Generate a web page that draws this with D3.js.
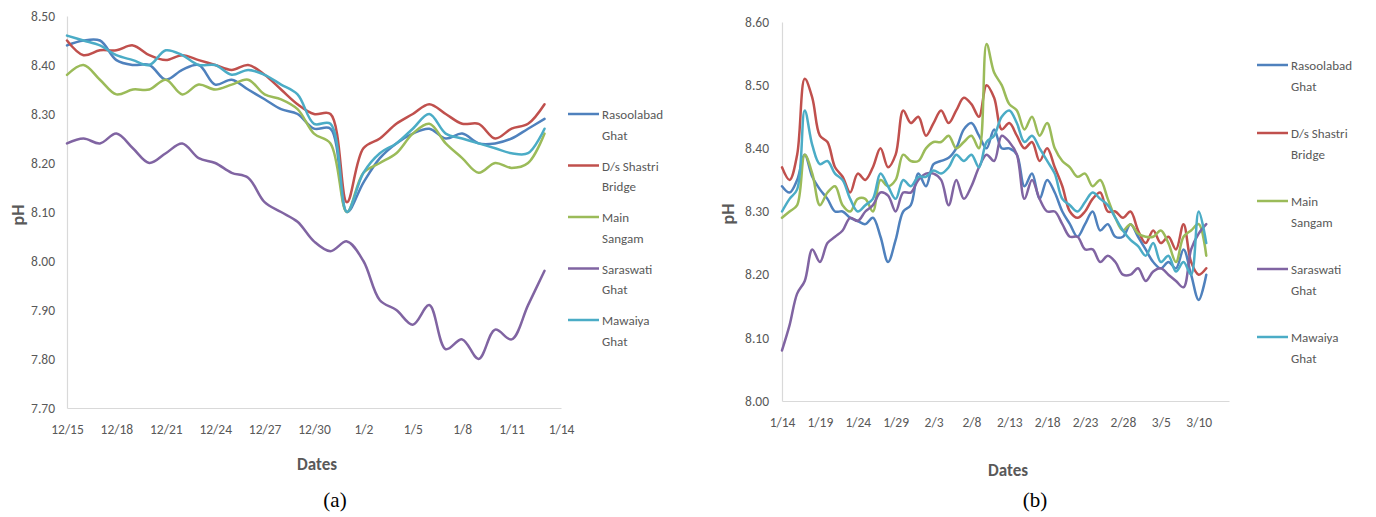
<!DOCTYPE html>
<html>
<head>
<meta charset="utf-8">
<script src="https://cdn.jsdelivr.net/npm/d3@7"></script>
<style>
  html, body { margin: 0; padding: 0; background: #fff; }
  svg { display: block; }
  .tick text { fill: #595959; }
</style>
</head>
<body>
<svg id="chart" width="1376" height="517"></svg>
<script>
// ---- Sampling stations (legend order) ----
const stations = ["Rasoolabad Ghat", "D/s Shastri Bridge", "Main Sangam", "Saraswati Ghat", "Mawaiya Ghat"];
const legendLines = [["Rasoolabad", "Ghat"], ["D/s Shastri", "Bridge"], ["Main", "Sangam"], ["Saraswati", "Ghat"], ["Mawaiya", "Ghat"]];
const colors = ["#4F81BD", "#C0504D", "#9BBB59", "#8064A2", "#4BACC6"];

// ---- Period (a): daily pH, 15 Dec – 13 Jan ----
const startA = "2014-12-15", endA = "2015-01-13";
const rasoolabadA = [8.44, 8.45, 8.45, 8.41, 8.40, 8.40, 8.37, 8.39, 8.40, 8.36, 8.37, 8.35, 8.33, 8.31, 8.30,
                     8.27, 8.27, 8.10, 8.16, 8.21, 8.24, 8.26, 8.27, 8.25, 8.26, 8.24, 8.24, 8.25, 8.27, 8.29];
const shastriA    = [8.45, 8.42, 8.43, 8.43, 8.44, 8.42, 8.41, 8.42, 8.41, 8.40, 8.39, 8.40, 8.38, 8.35, 8.32,
                     8.30, 8.30, 8.12, 8.23, 8.25, 8.28, 8.30, 8.32, 8.30, 8.28, 8.28, 8.25, 8.27, 8.28, 8.32];
const sangamA     = [8.38, 8.40, 8.37, 8.34, 8.35, 8.35, 8.37, 8.34, 8.36, 8.35, 8.36, 8.37, 8.34, 8.33, 8.31,
                     8.26, 8.24, 8.10, 8.18, 8.20, 8.22, 8.26, 8.28, 8.24, 8.21, 8.18, 8.20, 8.19, 8.20, 8.26];
const saraswatiA  = [8.24, 8.25, 8.24, 8.26, 8.23, 8.20, 8.22, 8.24, 8.21, 8.20, 8.18, 8.17, 8.12, 8.10, 8.08,
                     8.04, 8.02, 8.04, 8.00, 7.92, 7.90, 7.87, 7.91, 7.82, 7.84, 7.80, 7.86, 7.84, 7.91, 7.98];
const mawaiyaA    = [8.46, 8.45, 8.44, 8.42, 8.41, 8.40, 8.43, 8.42, 8.40, 8.40, 8.38, 8.39, 8.38, 8.36, 8.34,
                     8.28, 8.28, 8.10, 8.18, 8.22, 8.24, 8.27, 8.30, 8.26, 8.25, 8.24, 8.23, 8.22, 8.22, 8.27];
const yTicksA = [7.70, 7.80, 7.90, 8.00, 8.10, 8.20, 8.30, 8.40, 8.50];
const xTicksA = ["2014-12-15", "2014-12-18", "2014-12-21", "2014-12-24", "2014-12-27", "2014-12-30",
                 "2015-01-02", "2015-01-05", "2015-01-08", "2015-01-11", "2015-01-14"];

// ---- Period (b): daily pH, 14 Jan – 11 Mar ----
const startB = "2015-01-14", endB = "2015-03-11";
const rasoolabadB = [8.34, 8.33, 8.35, 8.39, 8.355, 8.335, 8.32, 8.30, 8.30, 8.29, 8.285, 8.28, 8.29, 8.26, 8.22,
                     8.255, 8.30, 8.31, 8.36, 8.34, 8.375, 8.38, 8.385, 8.40, 8.43, 8.44, 8.42, 8.40, 8.43, 8.40,
                     8.40, 8.39, 8.34, 8.36, 8.32, 8.35, 8.33, 8.30, 8.28, 8.26, 8.28, 8.30, 8.27, 8.28, 8.26,
                     8.26, 8.28, 8.26, 8.24, 8.22, 8.21, 8.22, 8.21, 8.24, 8.20, 8.16, 8.20];
const shastriB    = [8.37, 8.35, 8.39, 8.51, 8.48, 8.42, 8.41, 8.37, 8.355, 8.33, 8.36, 8.35, 8.37, 8.40, 8.37,
                     8.39, 8.46, 8.44, 8.45, 8.42, 8.44, 8.46, 8.44, 8.46, 8.48, 8.47, 8.45, 8.50, 8.48, 8.43,
                     8.44, 8.42, 8.40, 8.41, 8.38, 8.40, 8.37, 8.34, 8.30, 8.29, 8.30, 8.32, 8.33, 8.30, 8.30,
                     8.29, 8.30, 8.27, 8.25, 8.27, 8.25, 8.26, 8.24, 8.28, 8.22, 8.20, 8.21];
const sangamB     = [8.29, 8.30, 8.31, 8.39, 8.36, 8.31, 8.33, 8.34, 8.31, 8.30, 8.32, 8.32, 8.30, 8.35, 8.34,
                     8.35, 8.39, 8.38, 8.38, 8.40, 8.41, 8.41, 8.42, 8.40, 8.41, 8.42, 8.40, 8.565, 8.52, 8.50,
                     8.47, 8.46, 8.43, 8.45, 8.42, 8.44, 8.40, 8.38, 8.37, 8.355, 8.36, 8.34, 8.35, 8.32, 8.29,
                     8.27, 8.28, 8.265, 8.26, 8.26, 8.27, 8.25, 8.22, 8.26, 8.27, 8.28, 8.23];
const saraswatiB  = [8.08, 8.12, 8.17, 8.19, 8.24, 8.22, 8.25, 8.26, 8.27, 8.29, 8.285, 8.30, 8.31, 8.33, 8.325,
                     8.30, 8.33, 8.33, 8.35, 8.36, 8.36, 8.35, 8.31, 8.35, 8.32, 8.34, 8.37, 8.39, 8.38, 8.42,
                     8.41, 8.39, 8.32, 8.35, 8.32, 8.30, 8.30, 8.28, 8.26, 8.26, 8.24, 8.24, 8.22, 8.23, 8.22,
                     8.20, 8.20, 8.21, 8.19, 8.205, 8.21, 8.20, 8.19, 8.18, 8.24, 8.265, 8.28];
const mawaiyaB    = [8.30, 8.32, 8.335, 8.46, 8.405, 8.375, 8.38, 8.36, 8.35, 8.32, 8.30, 8.31, 8.32, 8.36, 8.34,
                     8.32, 8.35, 8.34, 8.355, 8.355, 8.365, 8.36, 8.37, 8.39, 8.38, 8.39, 8.37, 8.41, 8.42, 8.45,
                     8.46, 8.44, 8.41, 8.42, 8.40, 8.38, 8.36, 8.32, 8.31, 8.30, 8.315, 8.33, 8.32, 8.31, 8.29,
                     8.27, 8.255, 8.245, 8.23, 8.25, 8.22, 8.23, 8.205, 8.22, 8.20, 8.30, 8.25];
const yTicksB = [8.00, 8.10, 8.20, 8.30, 8.40, 8.50, 8.60];
const xTicksB = ["2015-01-14", "2015-01-19", "2015-01-24", "2015-01-29", "2015-02-03", "2015-02-08",
                 "2015-02-13", "2015-02-18", "2015-02-23", "2015-02-28", "2015-03-05", "2015-03-10"];

// ---- Helpers ----
const parse = d3.utcParse("%Y-%m-%d");
const fmtDate = d3.utcFormat("%-m/%-d");
const fmtPH = d3.format(".2f");
const FONT = "Carlito, 'Liberation Sans', Arial, sans-serif";
const svg = d3.select("#chart");

function drawPanel(cfg) {
  const days = d3.utcDay.range(parse(cfg.start), d3.utcDay.offset(parse(cfg.end), 1));
  const x = d3.scaleUtc().domain([parse(cfg.xTicks[0]), parse(cfg.axisEnd)]).range([cfg.left, cfg.right]);
  const y = d3.scaleLinear().domain([cfg.yTicks[0], cfg.yTicks[cfg.yTicks.length - 1]]).range([cfg.bottom, cfg.top]);
  const g = svg.append("g");

  // y axis
  const ya = g.append("g").attr("transform", `translate(${cfg.left},0)`)
    .call(d3.axisLeft(y).tickValues(cfg.yTicks).tickFormat(fmtPH).tickSize(0).tickPadding(cfg.yPad));
  ya.select(".domain").attr("stroke", "#d9d9d9").attr("stroke-width", 1.2);
  ya.selectAll("text").attr("font-family", FONT).attr("font-size", 13.5).attr("fill", "#595959");

  // x axis
  const xa = g.append("g").attr("transform", `translate(0,${cfg.bottom})`)
    .call(d3.axisBottom(x).tickValues(cfg.xTicks.map(parse)).tickFormat(fmtDate).tickSize(0).tickPadding(16));
  xa.select(".domain").attr("stroke", "#d9d9d9").attr("stroke-width", 1.2);
  xa.selectAll("text").attr("font-family", FONT).attr("font-size", 13.5).attr("fill", "#595959");

  // smoothed series lines
  const line = d3.line()
    .x((d, i) => x(days[i]))
    .y(d => y(d))
    .curve(d3.curveCatmullRom.alpha(0.5));
  cfg.series.forEach((vals, k) => {
    g.append("path").datum(vals)
      .attr("d", line)
      .attr("fill", "none")
      .attr("stroke", colors[k])
      .attr("stroke-width", 2.5)
      .attr("stroke-linejoin", "round")
      .attr("stroke-linecap", "round");
  });

  // axis titles
  g.append("text")
    .attr("transform", `translate(${cfg.phX},${cfg.phY}) rotate(-90)`)
    .attr("text-anchor", "middle").attr("dominant-baseline", "central")
    .attr("font-family", FONT).attr("font-size", 18).attr("font-weight", "bold").attr("fill", "#595959")
    .text("pH");
  g.append("text")
    .attr("x", cfg.datesX).attr("y", cfg.datesY)
    .attr("text-anchor", "middle")
    .attr("font-family", FONT).attr("font-size", 17).attr("font-weight", "bold").attr("fill", "#595959")
    .text("Dates");

  // legend
  const lg = g.append("g");
  legendLines.forEach((lines, k) => {
    const ly = cfg.legTop + k * cfg.legStep;
    lg.append("line")
      .attr("x1", cfg.legX).attr("x2", cfg.legX + 31)
      .attr("y1", ly).attr("y2", ly)
      .attr("stroke", colors[k]).attr("stroke-width", 2.5);
    lines.forEach((t, j) => {
      lg.append("text")
        .attr("x", cfg.legX + 34).attr("y", ly + 5 + j * 20.5)
        .attr("font-family", FONT).attr("font-size", 13).attr("fill", "#595959")
        .text(t);
    });
  });

  // panel caption
  g.append("text")
    .attr("x", cfg.capX).attr("y", 507)
    .attr("text-anchor", "middle")
    .attr("font-family", "'Liberation Serif', 'Times New Roman', serif").attr("font-size", 21).attr("fill", "#000")
    .text(cfg.caption);
}

drawPanel({
  start: startA, end: endA, axisEnd: "2015-01-14",
  xTicks: xTicksA, yTicks: yTicksA,
  series: [rasoolabadA, shastriA, sangamA, saraswatiA, mawaiyaA],
  left: 67, right: 561, top: 16, bottom: 408, yPad: 12,
  phX: 18, phY: 215, datesX: 317, datesY: 470,
  legX: 568, legTop: 114, legStep: 51.5,
  capX: 335, caption: "(a)"
});

drawPanel({
  start: startB, end: endB, axisEnd: "2015-03-14",
  xTicks: xTicksB, yTicks: yTicksB,
  series: [rasoolabadB, shastriB, sangamB, saraswatiB, mawaiyaB],
  left: 782, right: 1229, top: 22, bottom: 401, yPad: 13,
  phX: 728, phY: 214, datesX: 1008, datesY: 476,
  legX: 1257, legTop: 65, legStep: 68,
  capX: 1035, caption: "(b)"
});
</script>
</body>
</html>
